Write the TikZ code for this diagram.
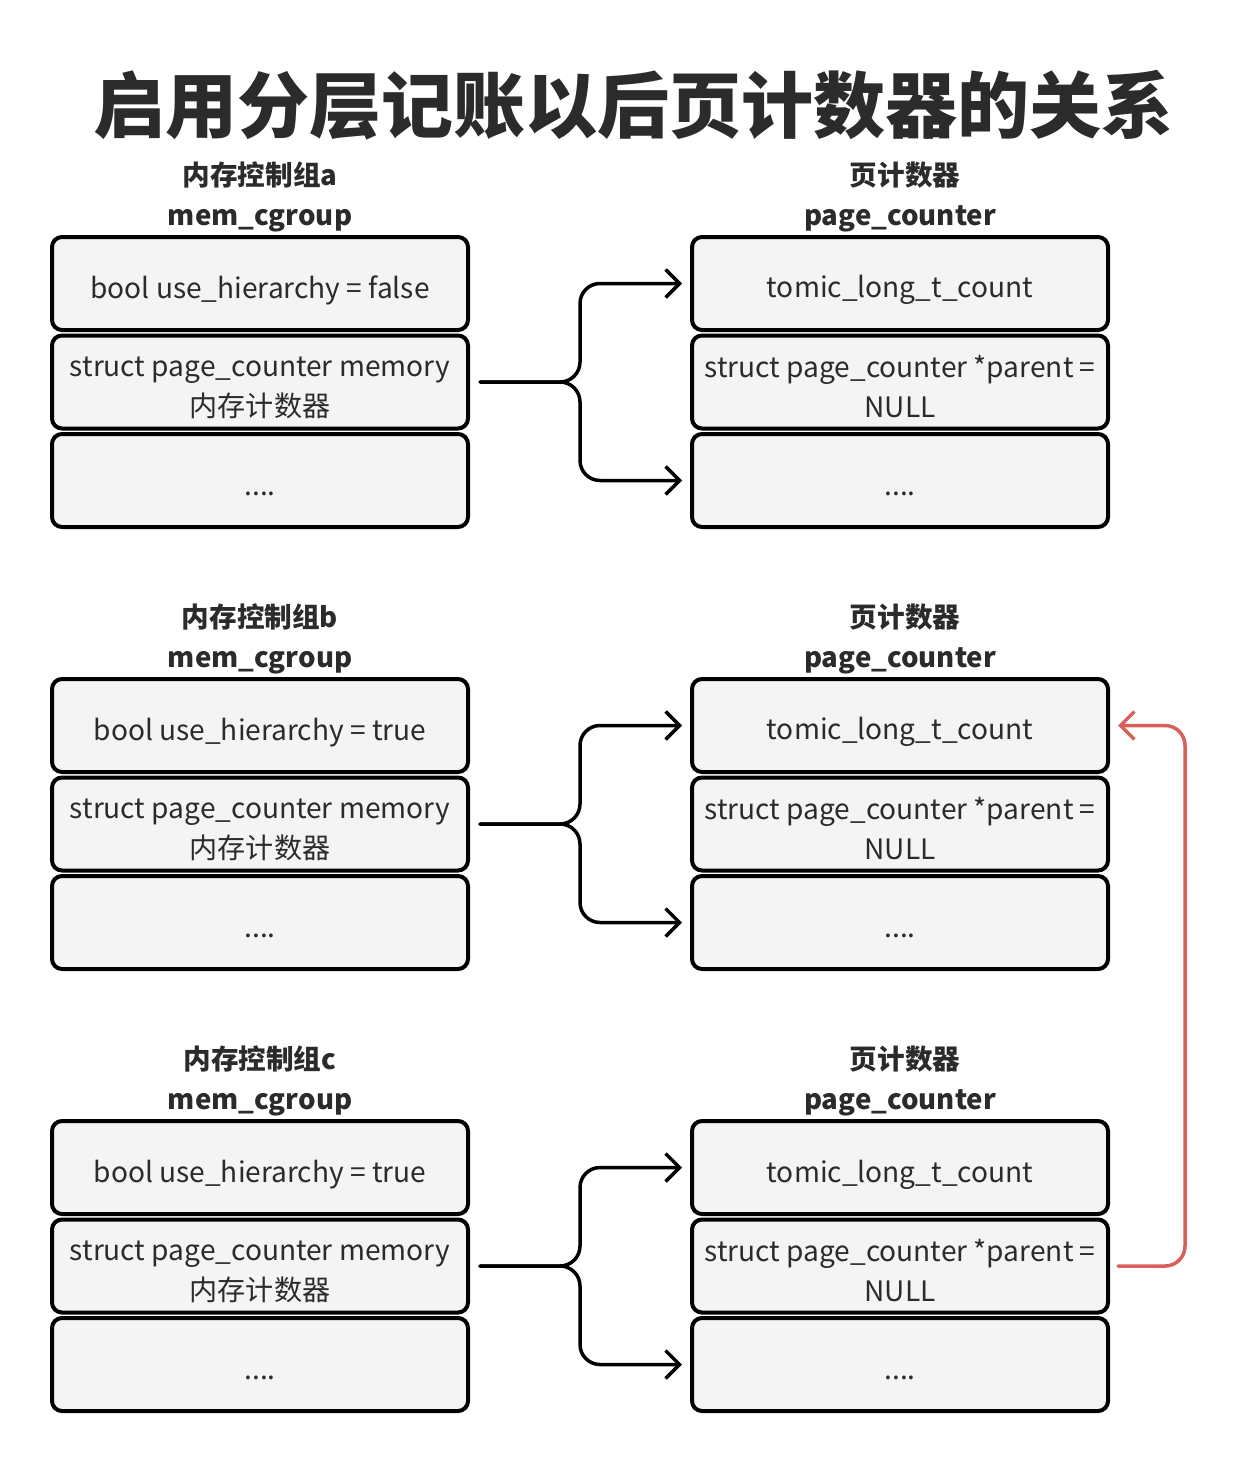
\documentclass[tikz,border=0pt]{standalone}
\usepackage{fontspec}
\setmainfont{Noto Sans CJK SC}
\usepackage{tikz}
\usetikzlibrary{positioning,arrows.meta}
\usepackage{xcolor}
\definecolor{boxfill}{HTML}{F4F4F4}
\definecolor{inkgray}{HTML}{2B2B2B}
\definecolor{linkred}{HTML}{D9605A}

\begin{document}
\begin{tikzpicture}[
    x=1pt, y=-1pt,
    field/.style={rectangle, rounded corners=10pt, draw=black, line width=4pt, fill=boxfill, minimum width=416pt, minimum height=93pt, align=center, inner sep=0pt, text=inkgray, font=\fontsize{28.1}{40}\selectfont, execute at begin node={\rule{0pt}{#1}}},
    field/.default=36pt,
    caption/.style={align=center, inner sep=2pt, text=inkgray, font=\fontsize{27.6}{40}\selectfont\bfseries},
    arrow/.style={-{Straight Barb[length=14pt,width=28pt]}, line width=3.5pt, line cap=round, line join=round, rounded corners=20pt},
    backarrow/.style={arrow, draw=linkred}
]
\useasboundingbox (0,0) rectangle (1250,1466);

% Title
\node[font=\fontsize{72}{72}\selectfont\bfseries, text=inkgray] (title) at (633,105) {启用分层记账以后页计数器的关系};

% Group a
\node[field] (ga1) at (260,283.5) {bool use\_hierarchy = false};
\node[field=71pt, below=1.5pt of ga1] (ga2) {struct page\_counter memory\\内存计数器};
\node[field=30pt, below=1.5pt of ga2] (ga3) {....};
\node[caption, above=1pt of ga1] (galabel) {内存控制组a\\mem\_cgroup};

\node[field] (pa1) at (900,283.5) {tomic\_long\_t\_count};
\node[field=71pt, below=1.5pt of pa1] (pa2) {struct page\_counter *parent =\\NULL};
\node[field=30pt, below=1.5pt of pa2] (pa3) {....};
\node[caption, above=1pt of pa1] (palabel) {\hspace*{10pt}页计数器\\page\_counter};

% Group b
\node[field] (gb1) at (260,725.5) {bool use\_hierarchy = true};
\node[field=71pt, below=1.5pt of gb1] (gb2) {struct page\_counter memory\\内存计数器};
\node[field=30pt, below=1.5pt of gb2] (gb3) {....};
\node[caption, above=1pt of gb1] (gblabel) {内存控制组b\\mem\_cgroup};

\node[field] (pb1) at (900,725.5) {tomic\_long\_t\_count};
\node[field=71pt, below=1.5pt of pb1] (pb2) {struct page\_counter *parent =\\NULL};
\node[field=30pt, below=1.5pt of pb2] (pb3) {....};
\node[caption, above=1pt of pb1] (pblabel) {\hspace*{10pt}页计数器\\page\_counter};

% Group c
\node[field] (gc1) at (260,1167.5) {bool use\_hierarchy = true};
\node[field=71pt, below=1.5pt of gc1] (gc2) {struct page\_counter memory\\内存计数器};
\node[field=30pt, below=1.5pt of gc2] (gc3) {....};
\node[caption, above=1pt of gc1] (gclabel) {内存控制组c\\mem\_cgroup};

\node[field] (pc1) at (900,1167.5) {tomic\_long\_t\_count};
\node[field=71pt, below=1.5pt of pc1] (pc2) {struct page\_counter *parent =\\NULL};
\node[field=30pt, below=1.5pt of pc2] (pc3) {....};
\node[caption, above=1pt of pc1] (pclabel) {\hspace*{10pt}页计数器\\page\_counter};

% Arrows
\draw[arrow] ([xshift=10pt]ga2.east) -- ([xshift=110pt]ga2.east) |- ([xshift=-8pt]pa1.west);
\draw[arrow] ([xshift=10pt]ga2.east) -- ([xshift=110pt]ga2.east) |- ([xshift=-8pt]pa3.west);
\draw[arrow] ([xshift=10pt]gb2.east) -- ([xshift=110pt]gb2.east) |- ([xshift=-8pt]pb1.west);
\draw[arrow] ([xshift=10pt]gb2.east) -- ([xshift=110pt]gb2.east) |- ([xshift=-8pt]pb3.west);
\draw[arrow] ([xshift=10pt]gc2.east) -- ([xshift=110pt]gc2.east) |- ([xshift=-8pt]pc1.west);
\draw[arrow] ([xshift=10pt]gc2.east) -- ([xshift=110pt]gc2.east) |- ([xshift=-8pt]pc3.west);

% Parent link
\draw[backarrow] ([xshift=8pt]pc2.east) -- ([xshift=75pt]pc2.east) |- ([xshift=8pt]pb1.east);

\end{tikzpicture}
\end{document}
